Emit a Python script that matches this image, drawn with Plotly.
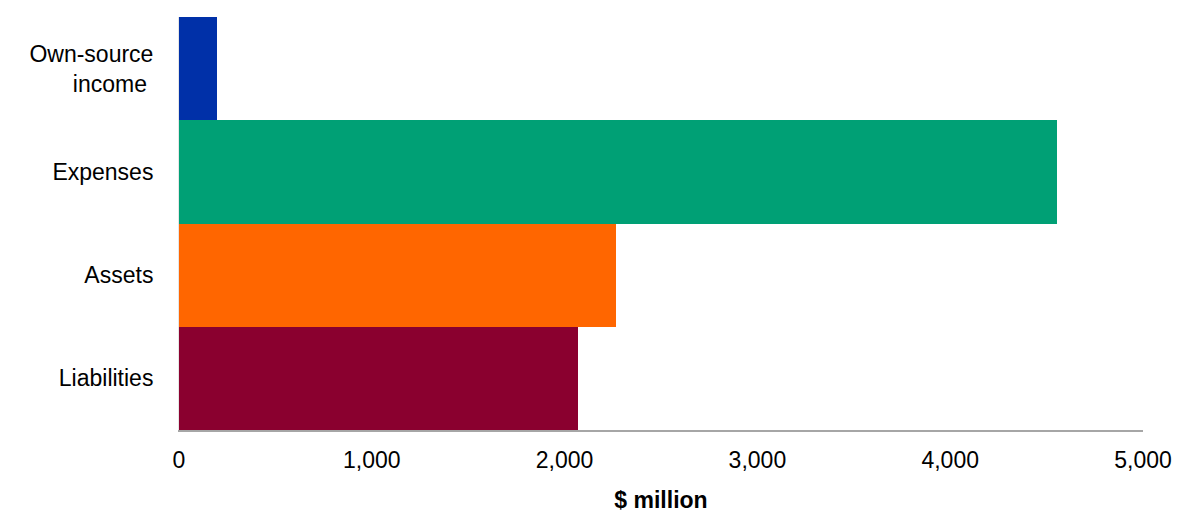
import plotly.graph_objects as go

# categories and values ($ million), top to bottom
categories = ["Own-source<br>income\u00a0", "Expenses", "Assets", "Liabilities"]
values = [199, 4554, 2265, 2071]
colors = ["#0030A8", "#00A075", "#FF6600", "#8A002F"]

fig = go.Figure()
fig.add_trace(go.Bar(
    x=values,
    y=categories,
    orientation="h",
    marker=dict(color=colors, line=dict(width=0)),
    hoverinfo="x+y",
))

# page body adds an 8px offset, so margins are trimmed to match
fig.update_layout(
    width=1200,
    height=529,
    margin=dict(l=171, r=65, t=9, b=107),
    plot_bgcolor="white",
    paper_bgcolor="white",
    bargap=0,
    showlegend=False,
    font=dict(family="Liberation Sans, Arial, sans-serif", size=23, color="black"),
)

fig.update_xaxes(
    range=[0, 5000],
    tickvals=[0, 1000, 2000, 3000, 4000, 5000],
    tickformat=",d",
    showgrid=False,
    zeroline=False,
    showline=True,
    linecolor="#A6A6A6",
    linewidth=2,
    ticks="",
    ticklabelstandoff=8,
    title=dict(text="<b>$ million</b>", standoff=20, font=dict(size=23)),
)

fig.update_yaxes(
    autorange="reversed",
    showgrid=False,
    zeroline=False,
    showline=True,
    linecolor="#E6E6E6",
    linewidth=1,
    ticks="",
    ticklabelstandoff=20,
)

fig.write_html("out.html")
